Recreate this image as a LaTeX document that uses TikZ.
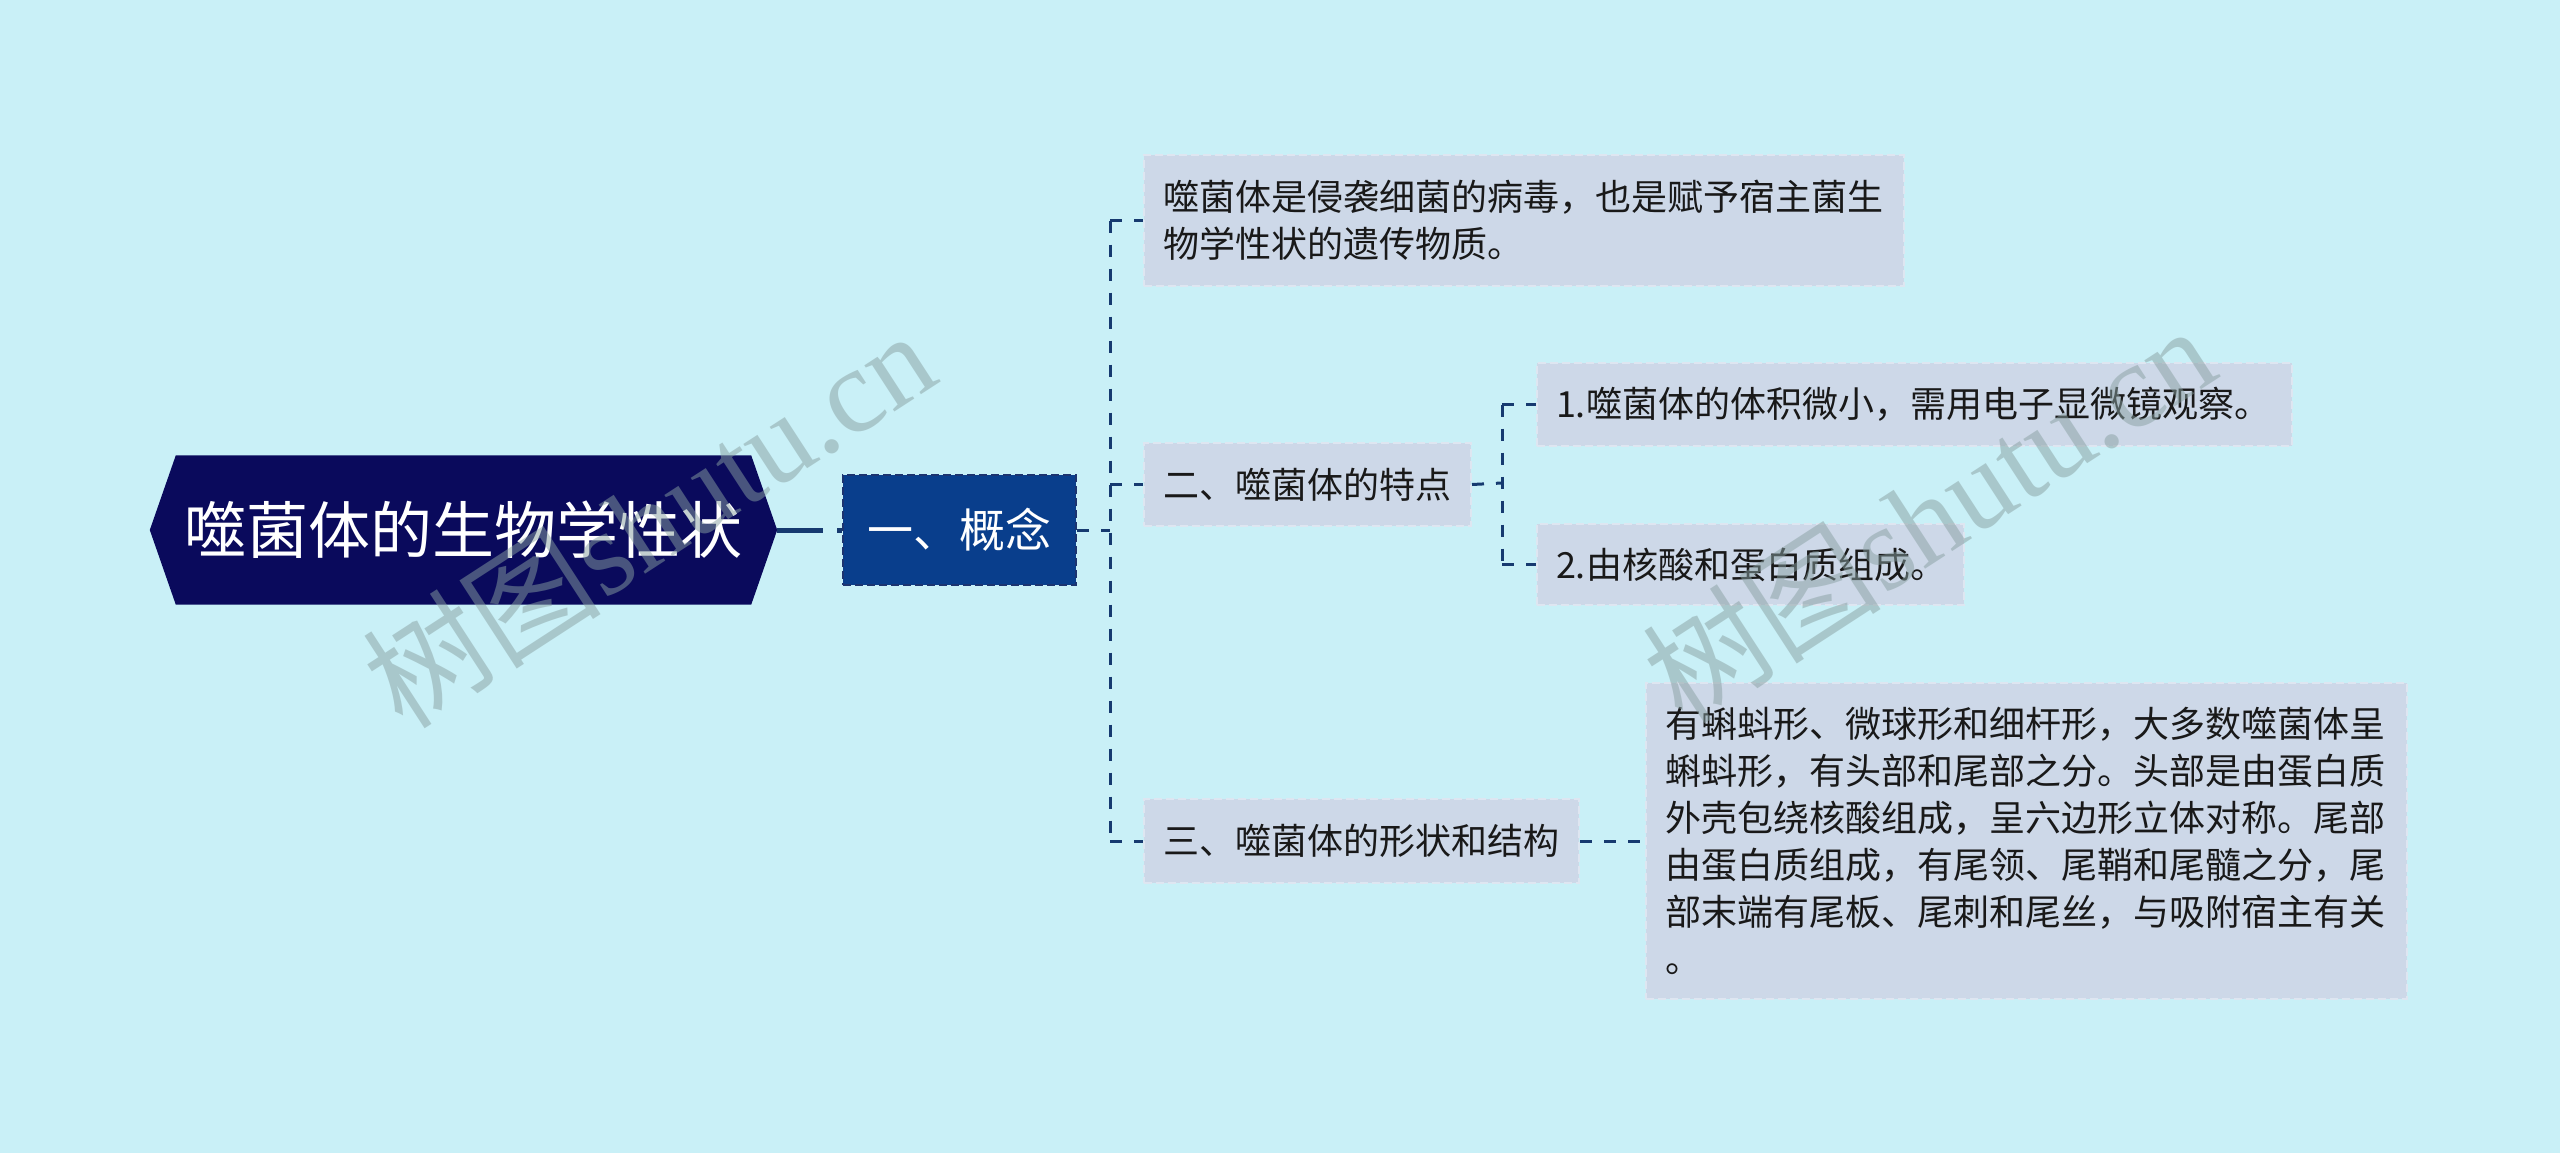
\documentclass[tikz,border=0pt]{standalone}
\usepackage{fontspec}
\setmainfont{Noto Sans CJK SC}
\newfontfamily\wmserif{Liberation Serif}
\usetikzlibrary{backgrounds}
\definecolor{bg}{RGB}{201,240,247}
\definecolor{boxfill}{RGB}{205,216,232}
\definecolor{boxedge}{RGB}{222,230,241}
\definecolor{rootfill}{RGB}{10,10,92}
\definecolor{conceptfill}{RGB}{9,62,140}
\definecolor{conceptedge}{RGB}{28,52,112}
\definecolor{linec}{RGB}{22,58,112}
\definecolor{txt}{RGB}{25,25,25}
\definecolor{wm}{RGB}{136,160,161}
\begin{document}
\begin{tikzpicture}[x=1pt,y=-1pt,
  leaf/.style={rectangle, fill=boxfill, draw=boxedge, line width=2pt,
    dash pattern=on 8pt off 4pt, text=txt, font=\fontsize{36}{47}\selectfont,
    inner xsep=19pt, inner ysep=0pt, align=left, anchor=north west},
  conn/.style={draw=linec, line width=3pt, dash pattern=on 12pt off 12pt},
  rootline/.style={draw=linec, line width=5pt, dash pattern=on 46pt off 14pt on 6pt off 0pt},
  wmark/.style={text=wm, text opacity=0.5, font=\fontsize{120}{120}\selectfont, inner sep=0pt}
]
\begin{pgfonlayer}{background}
\fill[bg] (0,0) rectangle (2560,1153);
\end{pgfonlayer}
\useasboundingbox (0,0) rectangle (2560,1153);

% root
\node[rectangle, inner sep=0pt, minimum width=627pt, minimum height=149pt,
  text=white, font=\fontsize{62}{70}\selectfont] (root) at (463.5,530) {噬菌体的生物学性状};
\begin{pgfonlayer}{background}
\fill[rootfill] (root.west) -- ([xshift=26pt]root.north west) -- ([xshift=-26pt]root.north east)
  -- (root.east) -- ([xshift=-26pt]root.south east) -- ([xshift=26pt]root.south west) -- cycle;
\end{pgfonlayer}

% concept
\node[rectangle, fill=conceptfill, draw=conceptedge, line width=2pt, dash pattern=on 8pt off 4pt,
  minimum width=233pt, minimum height=110pt, inner sep=0pt,
  text=white, font=\fontsize{46}{50}\selectfont] (concept) at (959.5,530) {一、概念};

% level 2
\node[leaf, text width=722pt, minimum height=131pt] (c1) at (1143,154)
  {噬菌体是侵袭细菌的病毒，也是赋予宿主菌生\\物学性状的遗传物质。};
\node[leaf, text width=289pt, minimum height=83pt] (c2) at (1143,442) {二、噬菌体的特点};
\node[leaf, text width=397pt, minimum height=84pt] (c3) at (1143,798) {三、噬菌体的形状和结构};

% level 3
\node[leaf, text width=717pt, minimum height=83pt] (g1) at (1536,362) {1.噬菌体的体积微小，需用电子显微镜观察。};
\node[leaf, text width=389pt, minimum height=81pt] (g2) at (1536,523) {2.由核酸和蛋白质组成。};
\node[leaf, text width=723pt, minimum height=316pt] (g3) at (1645,682)
  {有蝌蚪形、微球形和细杆形，大多数噬菌体呈\\蝌蚪形，有头部和尾部之分。头部是由蛋白质\\外壳包绕核酸组成，呈六边形立体对称。尾部\\由蛋白质组成，有尾领、尾鞘和尾髓之分，尾\\部末端有尾板、尾刺和尾丝，与吸附宿主有关\\。};

% connectors
\coordinate (t) at (1110,530);
\coordinate (s) at (1502,483);
\draw[rootline] (root.east) -- (concept.west);
\draw[conn] (concept.east) -- (t);
\draw[conn] (t |- c1.west) -- (t |- c3.west);
\draw[conn] (t |- c1.west) -- (c1.west);
\draw[conn] (t |- c2.west) -- (c2.west);
\draw[conn] (t |- c3.west) -- (c3.west);
\draw[conn] (c2.east) -- (s);
\draw[conn] (s |- g1.west) -- (s |- g2.west);
\draw[conn] (s |- g1.west) -- (g1.west);
\draw[conn] (s |- g2.west) -- (g2.west);
\draw[conn] (c3.east) -- (g3.west);

% watermarks
\node[wmark, rotate=33] (wm1) at (648,518) {树图{\wmserif shutu.cn}};
\node[wmark, rotate=33] (wm2) at (1928,513) {树图{\wmserif shutu.cn}};
\end{tikzpicture}
\end{document}
